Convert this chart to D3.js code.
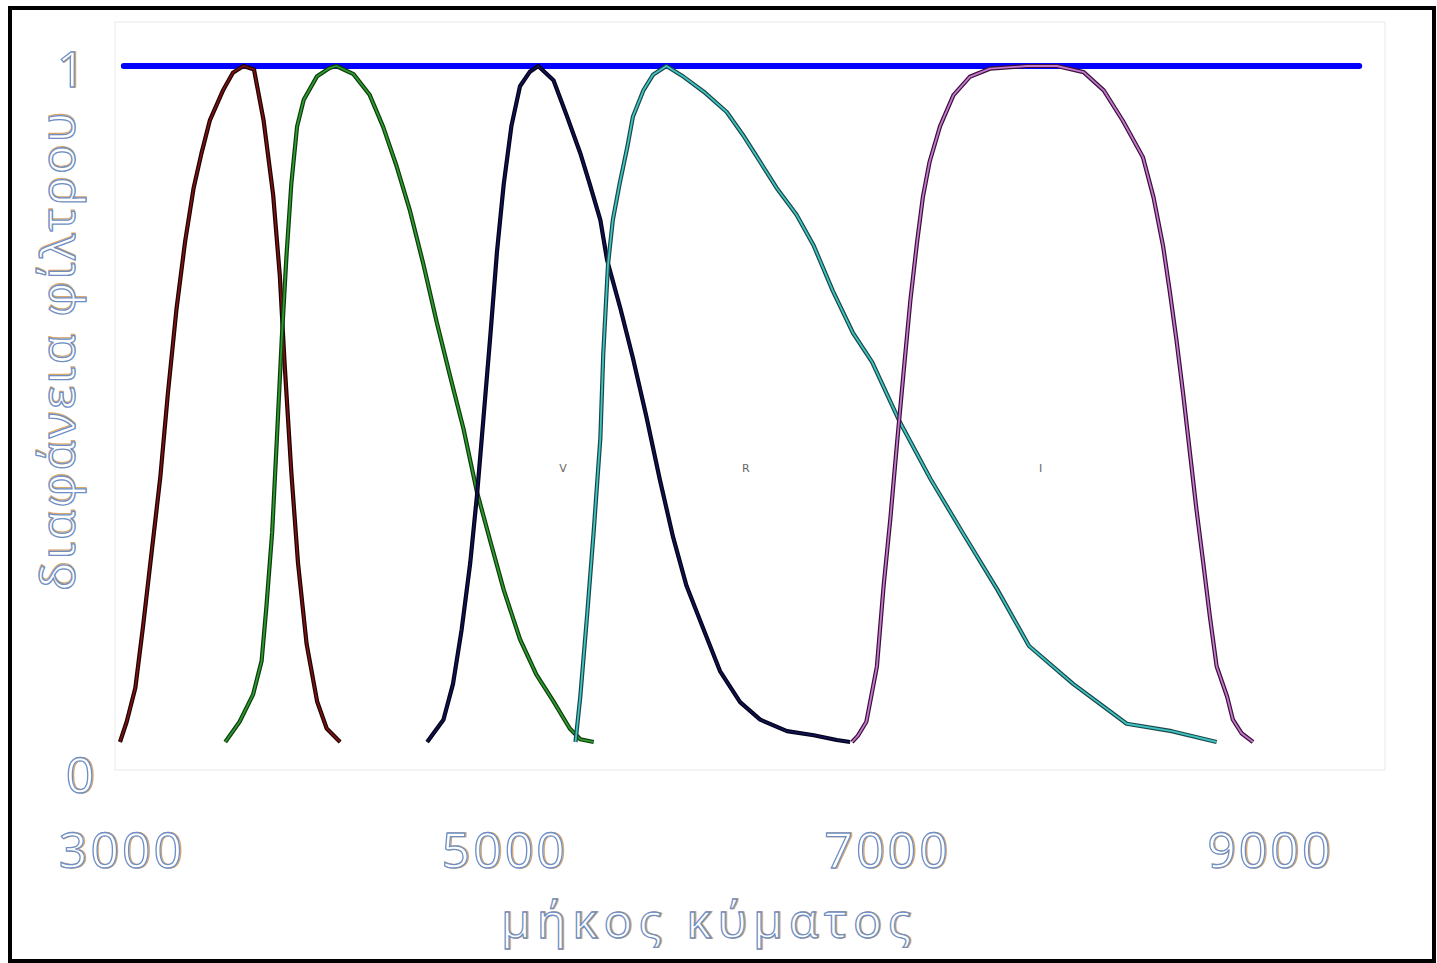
<!DOCTYPE html>
<html>
<head>
<meta charset="utf-8">
<script src="https://cdn.jsdelivr.net/npm/d3@7/dist/d3.min.js"></script>
<style>
  html, body { margin: 0; padding: 0; background: #fff; }
  svg { display: block; }
</style>
</head>
<body>
<div id="chart"></div>
<script>
// filter transmission curves, wavelength in Angstrom, transmission 0..1
const uWave = [3000,3035,3080,3120,3165,3210,3250,3295,3340,3385,3425,3470,3540,3590,3645,3700,3750,3800,3835,3860,3895,3930,3975,4030,4080,4150];
const uTrans = [0,0.03,0.08,0.17,0.28,0.39,0.515,0.64,0.74,0.82,0.87,0.92,0.965,0.99,1.0,0.995,0.92,0.81,0.69,0.56,0.40,0.265,0.145,0.06,0.02,0];

const bWave = [3550,3625,3695,3740,3765,3795,3820,3845,3870,3895,3925,3960,4030,4095,4130,4220,4305,4375,4445,4515,4585,4655,4725,4795,4865,4935,5005,5090,5175,5265,5350,5405,5475];
const bTrans = [0,0.03,0.07,0.12,0.2,0.31,0.45,0.595,0.72,0.825,0.91,0.95,0.985,0.997,1.0,0.988,0.957,0.91,0.852,0.786,0.707,0.621,0.541,0.463,0.37,0.297,0.225,0.152,0.1,0.06,0.02,0.004,0];

const vWave = [4605,4690,4740,4785,4830,4865,4900,4935,4970,5005,5045,5090,5140,5185,5265,5335,5405,5455,5510,5545,5615,5680,5750,5820,5890,5960,6050,6135,6240,6345,6485,6625,6745,6815];
const vTrans = [0,0.033,0.086,0.166,0.265,0.364,0.482,0.601,0.726,0.825,0.911,0.97,0.991,1.0,0.979,0.926,0.871,0.825,0.772,0.713,0.641,0.568,0.482,0.389,0.303,0.231,0.166,0.105,0.059,0.033,0.016,0.01,0.003,0];

const rWave = [5380,5405,5440,5475,5510,5525,5550,5575,5610,5650,5680,5735,5785,5855,5945,6050,6170,6255,6345,6430,6535,6625,6725,6830,6930,7070,7235,7400,7585,7750,7980,8260,8495,8730];
const rTrans = [0,0.067,0.185,0.311,0.45,0.574,0.707,0.772,0.825,0.879,0.925,0.964,0.987,1.0,0.984,0.962,0.932,0.898,0.858,0.82,0.78,0.734,0.667,0.605,0.562,0.476,0.389,0.311,0.225,0.142,0.086,0.027,0.016,0];

const iWave = [6825,6855,6900,6955,6990,7025,7060,7095,7130,7165,7195,7230,7285,7355,7440,7545,7740,7895,8035,8140,8240,8345,8400,8450,8485,8520,8555,8590,8625,8660,8695,8730,8785,8815,8860,8920];
const iTrans = [0,0.009,0.03,0.112,0.231,0.33,0.442,0.549,0.654,0.74,0.806,0.858,0.911,0.957,0.984,0.996,1.0,1.0,0.991,0.964,0.919,0.865,0.806,0.734,0.667,0.595,0.515,0.429,0.343,0.265,0.185,0.112,0.067,0.033,0.013,0];

// the full transmission reference line
const refWave = [3020, 9475];
const refTrans = [1, 1];

const filterNames = ['U', 'B', 'V', 'R', 'I'];
const bandLabels = ['V', 'R', 'I'];
const bandLabelWave = [5315, 6270, 7810];
const xTicks = [3000, 5000, 7000, 9000];
const yTicks = [0, 1];

const svgWidth = 1437;
const svgHeight = 963;

const svg = d3.select('#chart')
    .append('svg')
    .attr('width', svgWidth)
    .attr('height', svgHeight);

const xScale = d3.scaleLinear()
    .domain([3000, 9500])
    .range([120, 1364]);

const yScale = d3.scaleLinear()
    .domain([0, 1])
    .range([742, 66]);

// outer frame
svg.append('rect')
    .attr('x', 10).attr('y', 8)
    .attr('width', 1424).attr('height', 953)
    .attr('fill', '#fff')
    .attr('stroke', '#000')
    .attr('stroke-width', 4);

// faint plot area
svg.append('rect')
    .attr('x', 115).attr('y', 22)
    .attr('width', 1270).attr('height', 748)
    .attr('fill', 'none')
    .attr('stroke', '#f1f1f1')
    .attr('stroke-width', 1.5);

const line = d3.line()
    .x(d => xScale(d[0]))
    .y(d => yScale(d[1]));

// reference line at 1
svg.append('path')
    .attr('d', line(d3.zip(refWave, refTrans)))
    .attr('fill', 'none')
    .attr('stroke', '#0000ff')
    .attr('stroke-width', 6)
    .attr('stroke-linecap', 'round');

const series = [
    { wave: uWave, trans: uTrans, edge: '#1c0000', core: '#7a1212' },
    { wave: bWave, trans: bTrans, edge: '#0e3a0e', core: '#2c9a2c' },
    { wave: vWave, trans: vTrans, edge: '#000018', core: '#121250' },
    { wave: rWave, trans: rTrans, edge: '#1b4646', core: '#3fc4c4' },
    { wave: iWave, trans: iTrans, edge: '#3a0f3a', core: '#c479cc' }
];

series.forEach((s, i) => {
    const pts = d3.zip(s.wave, s.trans);
    const g = svg.append('g').attr('class', 'filter-' + filterNames[i]);
    g.append('path')
        .attr('d', line(pts))
        .attr('fill', 'none')
        .attr('stroke', s.edge)
        .attr('stroke-width', 4.2)
        .attr('stroke-linejoin', 'round');
    g.append('path')
        .attr('d', line(pts))
        .attr('fill', 'none')
        .attr('stroke', s.core)
        .attr('stroke-width', 1.8)
        .attr('stroke-linejoin', 'round');
});

// tiny band labels inside the plot
svg.selectAll('.band-label')
    .data(bandLabels)
    .enter()
    .append('text')
    .attr('class', 'band-label')
    .attr('x', (d, i) => xScale(bandLabelWave[i]))
    .attr('y', yScale(0.4))
    .attr('text-anchor', 'middle')
    .attr('font-family', 'DejaVu Sans')
    .attr('font-size', 11)
    .attr('fill', '#666')
    .text(d => d);

// outlined white text with a little colour fringe
function outlined(x, y, txt, size, opts) {
    opts = opts || {};
    const g = svg.append('g');
    if (opts.rotate) g.attr('transform', 'translate(' + x + ',' + y + ') rotate(-90)');
    else g.attr('transform', 'translate(' + x + ',' + y + ')');
    const layers = [
        { dx: 1.2, stroke: '#d9a66a' },
        { dx: 0, stroke: '#6f8fc4' }
    ];
    layers.forEach(l => {
        const t = g.append('text')
            .attr('x', l.dx)
            .attr('y', 0)
            .attr('text-anchor', 'middle')
            .attr('font-family', '"Open Sans", "DejaVu Sans", sans-serif')
            .attr('font-size', size)
            .attr('fill', '#fff')
            .attr('stroke', l.stroke)
            .attr('stroke-width', 1.3)
            .attr('letter-spacing', opts.spacing || 0)
            .text(txt);
        if (opts.length) t.attr('textLength', opts.length).attr('lengthAdjust', 'spacing');
    });
}

// y tick labels
outlined(71, 87, String(yTicks[1]), 50);
outlined(80, 793, String(yTicks[0]), 50);

// x tick labels
xTicks.forEach(t => {
    outlined(xScale(t) + 2, 868, String(t), 50, { spacing: 3 });
});

// axis titles
outlined(706, 938, 'μήκος κύματος', 48, { length: 410 });
outlined(75, 352, 'διαφάνεια φίλτρου', 48, { rotate: true, length: 478 });
</script>
</body>
</html>
